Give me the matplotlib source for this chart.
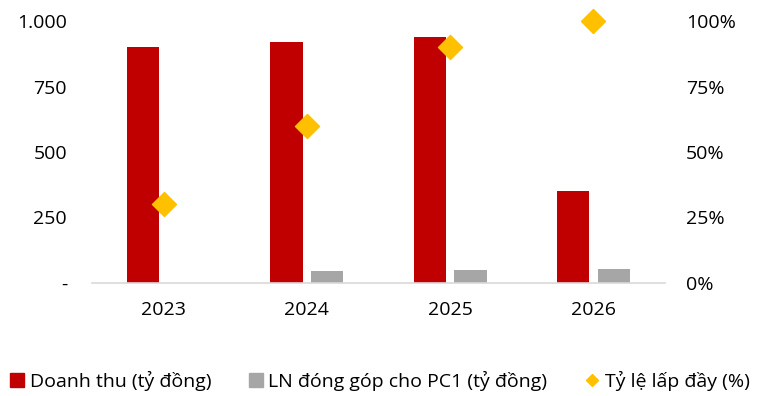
import matplotlib
matplotlib.use("Agg")
import matplotlib.pyplot as plt
import numpy as np
from matplotlib.ticker import FuncFormatter
from matplotlib.lines import Line2D

plt.rcParams['font.family'] = ['Open Sans', 'DejaVu Sans']

years = ["2023", "2024", "2025", "2026"]
doanh_thu = [900, 920, 940, 352]
ln_dong_gop = [0, 47, 50, 55]
ty_le = [30, 60, 90, 100]

red = "#C00000"
gray = "#A6A6A6"
gold = "#FFC000"

fig = plt.figure(figsize=(7.57, 3.96), dpi=100)
ax = fig.add_axes([92/757, 1 - 283/396, (665-92)/757, (283-21)/396])
ax2 = ax.twinx()

x = np.arange(len(years))
w = 0.225
ax.bar(x - 0.143, doanh_thu, width=w, color=red, zorder=2)
ax.bar(x + 0.143, ln_dong_gop, width=w, color=gray, zorder=2)
ax2.scatter(x, ty_le, marker="D", s=150, color=gold, zorder=3, clip_on=False)

ax.set_xlim(-0.5, len(years) - 0.5)
ax.set_ylim(0, 1000)
ax2.set_ylim(0, 100)
ax.set_yticks([0, 250, 500, 750, 1000])
ax2.set_yticks([0, 25, 50, 75, 100])
ax.yaxis.set_major_formatter(FuncFormatter(lambda v, p: "-" if v == 0 else f"{int(v):,}".replace(",", ".")))
ax2.yaxis.set_major_formatter(FuncFormatter(lambda v, p: f"{int(v)}%"))
ax.set_xticks(x)
ax.set_xticklabels(years)

for a in (ax, ax2):
    for s in a.spines.values():
        s.set_visible(False)
    a.tick_params(length=0, labelsize=14, colors="#000000")
ax.spines['bottom'].set_visible(True)
ax.spines['bottom'].set_color("#D9D9D9")
ax.spines['bottom'].set_linewidth(1.2)
ax.tick_params(axis='y', pad=18)
ax.tick_params(axis='x', pad=13)
ax2.tick_params(axis='y', pad=15)

handles = [
    Line2D([], [], marker="s", linestyle="none", color=red, markersize=10),
    Line2D([], [], marker="s", linestyle="none", color=gray, markersize=10),
    Line2D([], [], marker="D", linestyle="none", color=gold, markersize=6),
]
labels = ["Doanh thu (tỷ đồng)", "LN đóng góp cho PC1 (tỷ đồng)", "Tỷ lệ lấp đầy (%)"]
fig.legend(handles, labels, loc="center", bbox_to_anchor=(0.5, 1 - 381/396), ncol=3,
           frameon=False, fontsize=14, handletextpad=0.15, columnspacing=1.8, handlelength=1.0)

fig.savefig("out.png", dpi=100)
